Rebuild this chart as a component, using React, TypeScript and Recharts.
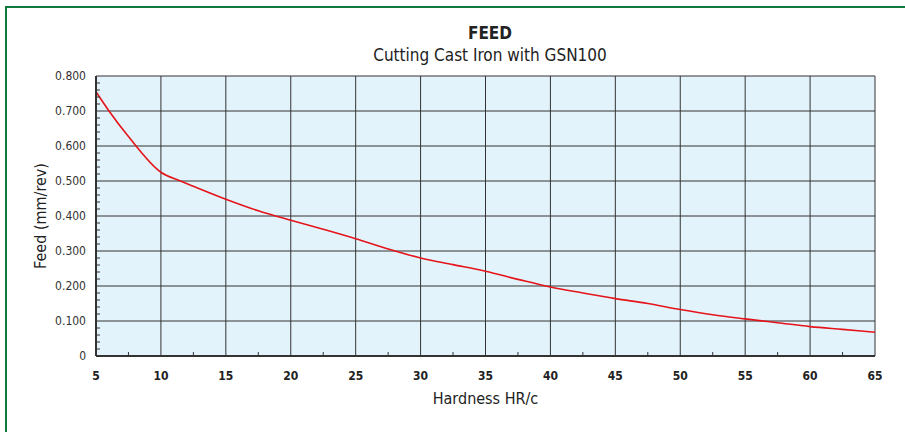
import { LineChart, Line, XAxis, YAxis, CartesianGrid } from "recharts"

const hardness = [5, 6, 7.5, 10, 11.5, 12.5, 15, 17.5, 20, 22.5, 25, 27.5, 30, 32.5, 35, 37.5, 40, 42.5, 45, 47.5, 50, 52.5, 55, 57.5, 60, 62.5, 65]
const feed = [0.755, 0.7, 0.627, 0.525, 0.5, 0.485, 0.448, 0.415, 0.388, 0.362, 0.335, 0.306, 0.28, 0.261, 0.242, 0.219, 0.197, 0.18, 0.164, 0.15, 0.133, 0.118, 0.106, 0.095, 0.084, 0.076, 0.068]

const xTicks = [5, 10, 15, 20, 25, 30, 35, 40, 45, 50, 55, 60, 65]
const xMinorTicks = [7.5, 12.5, 17.5, 22.5, 27.5, 32.5, 37.5, 42.5, 47.5, 52.5, 57.5, 62.5]
const yTicks = [0, 0.1, 0.2, 0.3, 0.4, 0.5, 0.6, 0.7, 0.8]
const yMinorTicks = [
  0.02, 0.04, 0.06, 0.08, 0.12, 0.14, 0.16, 0.18, 0.22, 0.24, 0.26, 0.28,
  0.32, 0.34, 0.36, 0.38, 0.42, 0.44, 0.46, 0.48, 0.52, 0.54, 0.56, 0.58,
  0.62, 0.64, 0.66, 0.68, 0.72, 0.74, 0.76, 0.78,
]

const data = hardness.map((h, i) => ({ hardness: h, feed: feed[i] }))

const allX = [...xTicks, ...xMinorTicks].sort((a, b) => a - b)
const allY = [...yTicks, ...yMinorTicks].sort((a, b) => a - b)

const NARROW = '"Liberation Sans Narrow", "DejaVu Sans Condensed", "Arial Narrow", sans-serif'

const fmtY = (v: number) => (v === 0 ? "0" : v.toFixed(3))

// x tick: label for majors, short inward mark for minors
const XTick = (props: any) => {
  const { x, y, payload } = props
  const v = payload.value
  if (xTicks.includes(v)) {
    return (
      <text x={x} y={y} dy="0.71em" textAnchor="middle" fill="#222" fontSize={12} fontWeight="bold" fontFamily={NARROW}>
        {v}
      </text>
    )
  }
  const axisY = y - 15
  return <line x1={x} x2={x} y1={axisY} y2={axisY - 4} stroke="#333" strokeWidth={1} />
}

const YTick = (props: any) => {
  const { x, y, payload } = props
  const v = payload.value
  if (yTicks.some((t) => Math.abs(t - v) < 1e-6)) {
    return (
      <text x={x} y={y} dy="0.355em" textAnchor="end" fill="#333" fontSize={12} fontFamily={NARROW}>
        {fmtY(v)}
      </text>
    )
  }
  const axisX = x + 10
  return <line x1={axisX} x2={axisX + 4} y1={y} y2={y} stroke="#333" strokeWidth={1} />
}

export default function App() {
  return (
    <div style={{ position: "absolute", left: 0, top: 0, width: 905, height: 432, background: "#fff", overflow: "hidden", fontFamily: NARROW }}>
      <div style={{ position: "absolute", left: 5, top: 6, width: 900, height: 2, background: "#0f7a3c" }} />
      <div style={{ position: "absolute", left: 5, top: 6, width: 2, height: 426, background: "#0f7a3c" }} />
      <div style={{ position: "absolute", left: 390, width: 200, top: 24, textAlign: "center", fontSize: 17, fontWeight: "bold", color: "#222", lineHeight: "18px" }}>
        FEED
      </div>
      <div style={{ position: "absolute", left: 290, width: 400, top: 45, textAlign: "center", fontSize: 17, color: "#222", lineHeight: "20px" }}>
        Cutting Cast Iron with GSN100
      </div>
      <div style={{ position: "absolute", left: 0, top: 0 }}>
        <LineChart width={905} height={432} data={data} margin={{ top: 76, right: 30, left: 26, bottom: 26 }}>
          <CartesianGrid
            stroke="#333"
            strokeWidth={1}
            fill="#e3f3fb"
            fillOpacity={1}
            verticalValues={xTicks}
            horizontalValues={yTicks}
          />
          <XAxis
            dataKey="hardness"
            type="number"
            domain={[5, 65]}
            ticks={allX}
            interval={0}
            height={50}
            tickLine={false}
            tickSize={12}
            tickMargin={3}
            axisLine={{ stroke: "#333", strokeWidth: 2 }}
            tick={<XTick />}
            label={{ value: "Hardness HR/c", position: "insideBottom", offset: 2, fill: "#222", fontSize: 16, fontFamily: NARROW }}
          />
          <YAxis
            type="number"
            domain={[0, 0.8]}
            ticks={allY}
            interval={0}
            width={70}
            tickLine={false}
            tickSize={8}
            tickMargin={2}
            axisLine={{ stroke: "#333", strokeWidth: 2 }}
            tick={<YTick />}
            label={{ value: "Feed (mm/rev)", angle: -90, position: "insideLeft", offset: 14, fill: "#222", fontSize: 16, fontFamily: NARROW, style: { textAnchor: "middle" } }}
          />
          <Line
            type="monotone"
            dataKey="feed"
            stroke="#e5141b"
            strokeWidth={1.6}
            dot={false}
            isAnimationActive={false}
          />
        </LineChart>
      </div>
    </div>
  )
}
